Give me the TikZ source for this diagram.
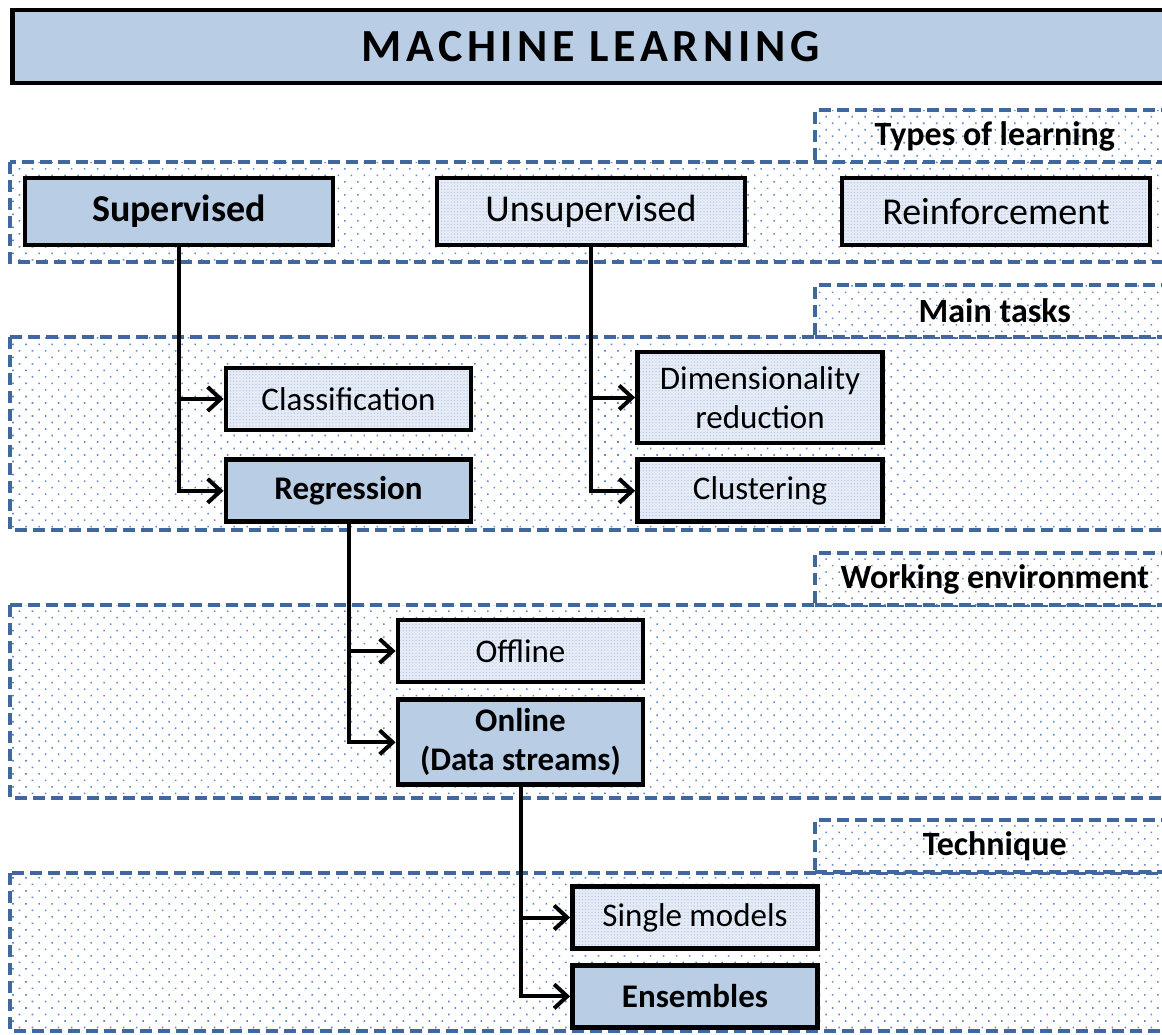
\documentclass[tikz,border=0pt]{standalone}
\usepackage{fontspec}
\setmainfont{Carlito}
\usetikzlibrary{arrows.meta,positioning,patterns.meta}
\definecolor{BoxBlue}{RGB}{185,205,229}
\definecolor{PaleBlue}{RGB}{230,236,245}
\definecolor{BandBlue}{RGB}{65,104,158}
\definecolor{DotBlue}{RGB}{95,138,208}
\tikzset{
  titlebox/.style={draw=black, line width=2.4pt, fill=BoxBlue, anchor=west,
    minimum width=578pt, minimum height=36.5pt,
    font=\fontsize{23}{26}\selectfont\bfseries\addfontfeature{LetterSpace=10}},
  bandframe/.style={draw=BandBlue, line width=1.8pt, dash pattern=on 6pt off 3pt,
    preaction={fill=white},
    preaction={pattern={Dots[distance=4.6pt, angle=45, radius=0.55pt]}, pattern color=DotBlue}},
  tabbox/.style={bandframe, anchor=west, minimum width=180pt, minimum height=26pt,
    font=\fontsize{17}{20}\selectfont\bfseries},
  catbox/.style={draw=black, line width=2.4pt, fill=BoxBlue, align=center,
    minimum width=#1, inner sep=2pt},
  catbox/.default=122.5pt,
  palebox/.style={draw=black, line width=2.4pt, align=center, minimum width=#1, inner sep=2pt,
    preaction={fill=PaleBlue},
    preaction={pattern={Dots[distance=1.6pt, radius=0.35pt]}, pattern color=DotBlue!50}},
  palebox/.default=122.5pt,
  topfont/.style={font=\fontsize{19}{22}\selectfont, minimum height=33.5pt},
  subfont/.style={font=\fontsize{16.5}{19.5}\selectfont, minimum height=31pt},
  treearr/.style={-{Straight Barb[length=6.5pt, width=12pt]}, line width=2pt, black},
}
\begin{document}
\begin{tikzpicture}[x=0.5pt, y=-0.5pt]
  \useasboundingbox (0,0) rectangle (1162,1034);
  \clip (0,0) rectangle (1162,1034);
  % bands
  \foreach \ytop/\ybot in {162/262, 337/530, 605/798, 873/1031}
    \draw[bandframe] (10,\ytop) rectangle (1200,\ybot);
  % tabs
  \node[tabbox] (tabtypes) at (813,136) {Types of learning};
  \node[tabbox] (tabtasks) at (813,311) {Main tasks};
  \node[tabbox] (tabenv) at (813,579) {Working environment};
  \node[tabbox] (tabtech) at (813,846) {Technique};
  % title
  \node[titlebox] (title) at (10,46.5) {MACHINE LEARNING};
  % types of learning
  \node[catbox=154pt, topfont, font=\fontsize{19}{22}\selectfont\bfseries] (sup) at (179,211.5) {Supervised};
  \node[palebox=154pt, topfont] (unsup) at (591,211.5) {Unsupervised};
  \node[palebox=154pt, topfont] (reinf) at (996,211.5) {Reinforcement};
  % main tasks
  \node[palebox, subfont] (cls) at (348.5,399) {Classification};
  \node[catbox, subfont, font=\fontsize{16.5}{19.5}\selectfont\bfseries, below=12.5pt of cls] (reg) {Regression};
  \node[palebox, subfont, minimum height=45.5pt] (dim) at (760,397.5) {Dimensionality\\ reduction};
  \node[palebox, subfont, below=6pt of dim] (clu) {Clustering};
  % working environment
  \node[palebox, subfont] (off) at (520.5,651) {Offline};
  \node[catbox, subfont, font=\fontsize{16.5}{19.5}\selectfont\bfseries, minimum height=42.5pt,
    below=6.5pt of off] (onl) {Online\\ (Data streams)};
  % technique
  \node[palebox, subfont] (sgl) at (695,917.5) {Single models};
  \node[catbox, subfont, font=\fontsize{16.5}{19.5}\selectfont\bfseries, below=6pt of sgl] (ens) {Ensembles};
  % connectors
  \draw[treearr] (sup.south) |- (cls.west);
  \draw[treearr] (sup.south) |- (reg.west);
  \draw[treearr] (unsup.south) |- (dim.west);
  \draw[treearr] (unsup.south) |- (clu.west);
  \draw[treearr] (reg.south) |- (off.west);
  \draw[treearr] (reg.south) |- (onl.west);
  \draw[treearr] (onl.south) |- (sgl.west);
  \draw[treearr] (onl.south) |- (ens.west);
\end{tikzpicture}
\end{document}
